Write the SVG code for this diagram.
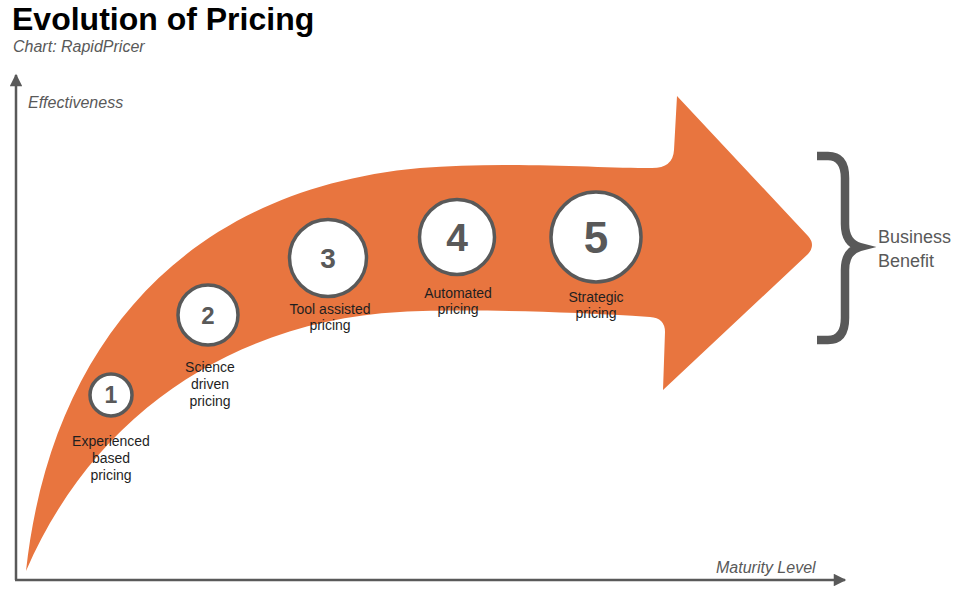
<svg xmlns="http://www.w3.org/2000/svg" width="965" height="594" viewBox="0 0 965 594">
  <style>
    .title { font-family: "Liberation Sans", Arial, sans-serif; font-weight: bold; font-size: 32px; fill: #000; }
    .axis-label { font-family: "Liberation Sans", Arial, sans-serif; font-style: italic; font-size: 16px; fill: #595959; }
    .circle { fill: #fff; stroke: #595959; stroke-width: 3.5; }
    .num { font-family: "Liberation Sans", Arial, sans-serif; font-weight: bold; fill: #595959; text-anchor: middle; }
    .label { font-family: "Liberation Sans", Arial, sans-serif; font-size: 14px; fill: #1f1f1f; text-anchor: middle; }
    .axis { stroke: #595959; stroke-width: 2.5; fill: none; }
    .benefit { font-family: "Liberation Sans", Arial, sans-serif; font-size: 18px; fill: #595959; }
  </style>
  <defs>
    <marker id="arrowhead" viewBox="0 0 10 10" refX="9" refY="5" markerWidth="6" markerHeight="5" markerUnits="strokeWidth" orient="auto">
      <path d="M0,0 L10,5 L0,10 z" fill="#595959"/>
    </marker>
  </defs>
  <rect width="965" height="594" fill="#fff"/>

  <text class="title" x="12" y="30">Evolution of Pricing</text>
  <text class="axis-label" x="13" y="52">Chart: RapidPricer</text>

  <g id="axes">
    <path class="axis" d="M16,580 L16,75" marker-end="url(#arrowhead)"/>
    <path class="axis" d="M15,580 L845,580" marker-end="url(#arrowhead)"/>
    <text class="axis-label" x="28" y="108">Effectiveness</text>
    <text class="axis-label" x="716" y="573">Maturity Level</text>
  </g>

  <g id="connectors">
    <path id="growth-arrow" fill="#E8753F" d="M26,571 C50,350 180,190 420,168 C500,161 600,168 652,168 Q673,168 674,150 L677,96 L808,236 Q816,245 808,254 L663,390 L665,332 Q665,318 650,317 C560,311 460,309 400,312 C250,320 100,400 26,571 Z"/>
  </g>

  <g id="node-1">
    <circle class="circle" cx="111" cy="395" r="21"/>
    <text class="num" x="111" y="403" font-size="23">1</text>
    <text class="label" x="111" y="446">Experienced</text>
    <text class="label" x="111" y="463">based</text>
    <text class="label" x="111" y="480">pricing</text>
  </g>

  <g id="node-2">
    <circle class="circle" cx="208" cy="315" r="30"/>
    <text class="num" x="208" y="324" font-size="24">2</text>
    <text class="label" x="210" y="372">Science</text>
    <text class="label" x="210" y="389">driven</text>
    <text class="label" x="210" y="406">pricing</text>
  </g>

  <g id="node-3">
    <circle class="circle" cx="328" cy="258" r="38.5"/>
    <text class="num" x="328" y="268" font-size="28">3</text>
    <text class="label" x="330" y="314">Tool assisted</text>
    <text class="label" x="330" y="330">pricing</text>
  </g>

  <g id="node-4">
    <circle class="circle" cx="457" cy="237" r="37.5"/>
    <text class="num" x="457" y="251" font-size="39">4</text>
    <text class="label" x="458" y="298">Automated</text>
    <text class="label" x="458" y="314">pricing</text>
  </g>

  <g id="node-5">
    <circle class="circle" cx="596" cy="237" r="45"/>
    <text class="num" x="596" y="253" font-size="44">5</text>
    <text class="label" x="596" y="302">Strategic</text>
    <text class="label" x="596" y="318">pricing</text>
  </g>

  <g id="business-benefit">
    <path d="M817,156 L828,156 Q845,156 845,178 L845,224 Q845,243 860,247 Q845,251 845,270 L845,318 Q845,340 828,340 L817,340" fill="none" stroke="#595959" stroke-width="8.5" stroke-linejoin="miter"/>
    <text class="benefit" x="878" y="243">Business</text>
    <text class="benefit" x="878" y="267">Benefit</text>
  </g>
</svg>
